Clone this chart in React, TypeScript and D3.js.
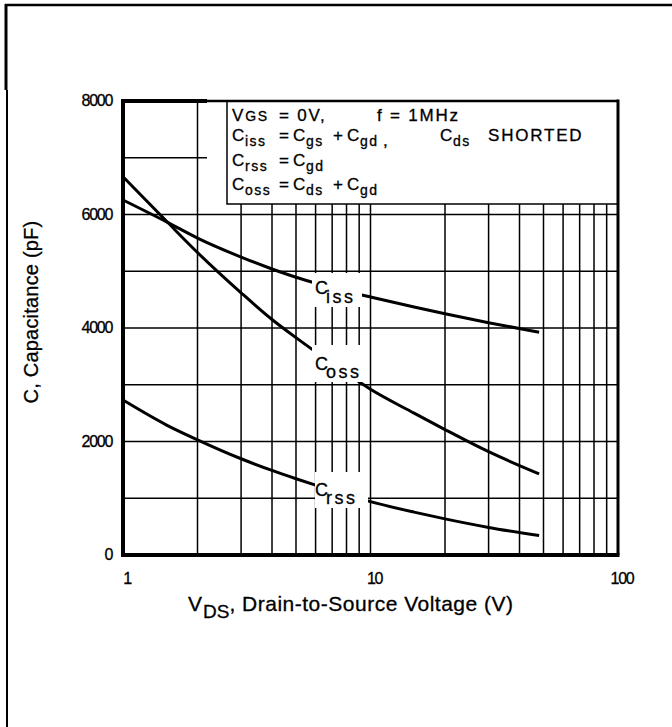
import React from "react";
import * as d3 from "d3";

const voltages = [1, 1.5, 2, 3, 4, 5, 6, 8, 10, 15, 20, 30, 48];
const cissValues = [6255, 5870, 5585, 5250, 5040, 4895, 4792, 4648, 4546, 4370, 4251, 4093, 3925];
const cossValues = [6665, 5880, 5330, 4620, 4150, 3830, 3580, 3200, 2920, 2500, 2210, 1820, 1430];
const crssValues = [2730, 2290, 2030, 1696, 1490, 1344, 1230, 1061, 940, 755, 636, 486, 343];
const yTicks = [0, 2000, 4000, 6000, 8000];
const yGrid = [1000, 2000, 3000, 4000, 5000, 6000, 7000];
const xTicks = [1, 10, 100];
const xGrid = [2, 3, 4, 5, 6, 7, 8, 9, 10, 20, 30, 40, 50, 60, 70, 80, 90];

const W = 672;
const H = 727;
const L = 123, R = 618, T = 101, B = 555;
const FONT = "'Liberation Sans', Arial, sans-serif";

export default function App() {
  const x = d3.scaleLog().domain([1, 100]).range([L, R]);
  const y = d3.scaleLinear().domain([0, 8000]).range([B, T]);
  const line = d3
    .line<[number, number]>()
    .x((d) => x(d[0]))
    .y((d) => y(d[1]))
    .curve(d3.curveMonotoneX);
  const series = [cissValues, cossValues, crssValues].map((vals) =>
    line(voltages.map((v, i) => [v, vals[i]] as [number, number]))
  );
  const boxL = 227, boxB = 204;

  const txt = { fontFamily: FONT, fill: "#000", stroke: "#000", strokeWidth: 0.3 };

  // legend piece: main letter + subscript
  const cs = (lx: number, ly: number, sub: string, k: string) => (
    <g key={k}>
      <text x={lx} y={ly} fontSize={17} {...txt}>C</text>
      <text x={lx + 13} y={ly + 5} fontSize={14} letterSpacing={1.5} {...txt}>{sub}</text>
    </g>
  );
  const plain = (lx: number, ly: number, s: string, k: string) => (
    <text key={k} x={lx} y={ly} fontSize={17} letterSpacing={1.8} {...txt}>{s}</text>
  );

  const curveLabel = (lx: number, ly: number, subY: number, sub: string) => (
    <g>
      <text x={lx} y={ly} fontSize={18} {...txt}>C</text>
      <text x={lx + 11} y={subY} fontSize={18} letterSpacing={2.5} {...txt}>{sub}</text>
    </g>
  );

  return (
    <svg width={W} height={H} style={{ position: "absolute", left: 0, top: 0, display: "block" }}>
      <rect x={0} y={0} width={W} height={H} fill="#fff" />
      {/* outer frame */}
      <line x1={5} y1={5} x2={W} y2={5} stroke="#000" strokeWidth={2.5} />
      <line x1={6} y1={4} x2={6} y2={90} stroke="#000" strokeWidth={3} />
      <line x1={7} y1={90} x2={7} y2={H} stroke="#000" strokeWidth={2} />

      {/* grid */}
      {xGrid.map((v) => (
        <line key={"gx" + v} x1={x(v)} x2={x(v)} y1={v === 2 ? T : boxB} y2={B} stroke="#000" strokeWidth={1.5} />
      ))}
      {yGrid.map((v) => (
        <line key={"gy" + v} x1={L} x2={y(v) < boxB ? 207 : R} y1={y(v)} y2={y(v)} stroke="#000" strokeWidth={1.5} />
      ))}

      {/* curves */}
      {series.map((d, i) => (
        <path key={"s" + i} d={d || ""} fill="none" stroke="#000" strokeWidth={3} />
      ))}

      {/* curve labels */}
      <rect x={312} y={273} width={50} height={34} fill="#fff" />
      <rect x={312} y={345} width={50} height={37} fill="#fff" />
      <rect x={315} y={472} width={53} height={36} fill="#fff" />
      {curveLabel(315, 294, 303, "iss")}
      {curveLabel(315, 370, 378, "oss")}
      {curveLabel(315, 496, 504, "rss")}

      {/* legend box */}
      <rect x={boxL} y={T} width={R - boxL} height={boxB - T} fill="#fff" stroke="#000" strokeWidth={1.5} />
      <g>
        <text x={232} y={121} fontSize={17} {...txt}>
          V<tspan dx={2} fontSize={14} letterSpacing={1.5}>GS</tspan>
        </text>
        {plain(279, 121, "= 0V,", "l1a")}
        {plain(377, 121, "f = 1MHz", "l1b")}

        {cs(232, 141, "iss", "l2a")}
        {plain(279, 141, "=", "l2b")}
        {cs(293, 141, "gs", "l2c")}
        {plain(333, 141, "+", "l2d")}
        {cs(347, 141, "gd", "l2e")}
        {plain(383, 146, ",", "l2f")}
        {cs(440, 141, "ds", "l2g")}
        {plain(488, 141, "SHORTED", "l2h")}

        {cs(232, 166, "rss", "l3a")}
        {plain(279, 166, "=", "l3b")}
        {cs(293, 166, "gd", "l3c")}

        {cs(232, 190, "oss", "l4a")}
        {plain(279, 190, "=", "l4b")}
        {cs(293, 190, "ds", "l4c")}
        {plain(333, 190, "+", "l4d")}
        {cs(347, 190, "gd", "l4e")}
      </g>

      {/* plot frame */}
      <line x1={L} x2={L} y1={T - 2} y2={B + 2} stroke="#000" strokeWidth={4} />
      <line x1={L - 2} x2={R + 1.5} y1={B} y2={B} stroke="#000" strokeWidth={4} />
      <line x1={R} x2={R} y1={T - 1.5} y2={B} stroke="#000" strokeWidth={3} />
      <line x1={L} x2={207} y1={T} y2={T} stroke="#000" strokeWidth={4} />
      <line x1={207} x2={R} y1={T} y2={T} stroke="#000" strokeWidth={2.5} />

      {/* y tick labels */}
      {yTicks.map((v) => (
        <text key={"yt" + v} x={L - 11} y={y(v) + 5} textAnchor="end" fontSize={16} letterSpacing={-1.3} {...txt}>
          {v}
        </text>
      ))}
      {/* x tick labels */}
      {xTicks.map((v) => (
        <text key={"xt" + v} x={x(v) + 4} y={584} textAnchor="middle" fontSize={16} letterSpacing={-1.3} {...txt}>
          {v}
        </text>
      ))}

      {/* axis titles */}
      <text x={188} y={611} fontSize={21} {...txt}>
        V<tspan dx={1} dy={7} fontSize={19}>DS</tspan>
        <tspan dy={-7} letterSpacing={0.5}>, Drain-to-Source Voltage (V)</tspan>
      </text>
      <text transform="translate(38,312) rotate(-90)" textAnchor="middle" fontSize={20} letterSpacing={0.2} {...txt}>
        C, Capacitance (pF)
      </text>
    </svg>
  );
}
